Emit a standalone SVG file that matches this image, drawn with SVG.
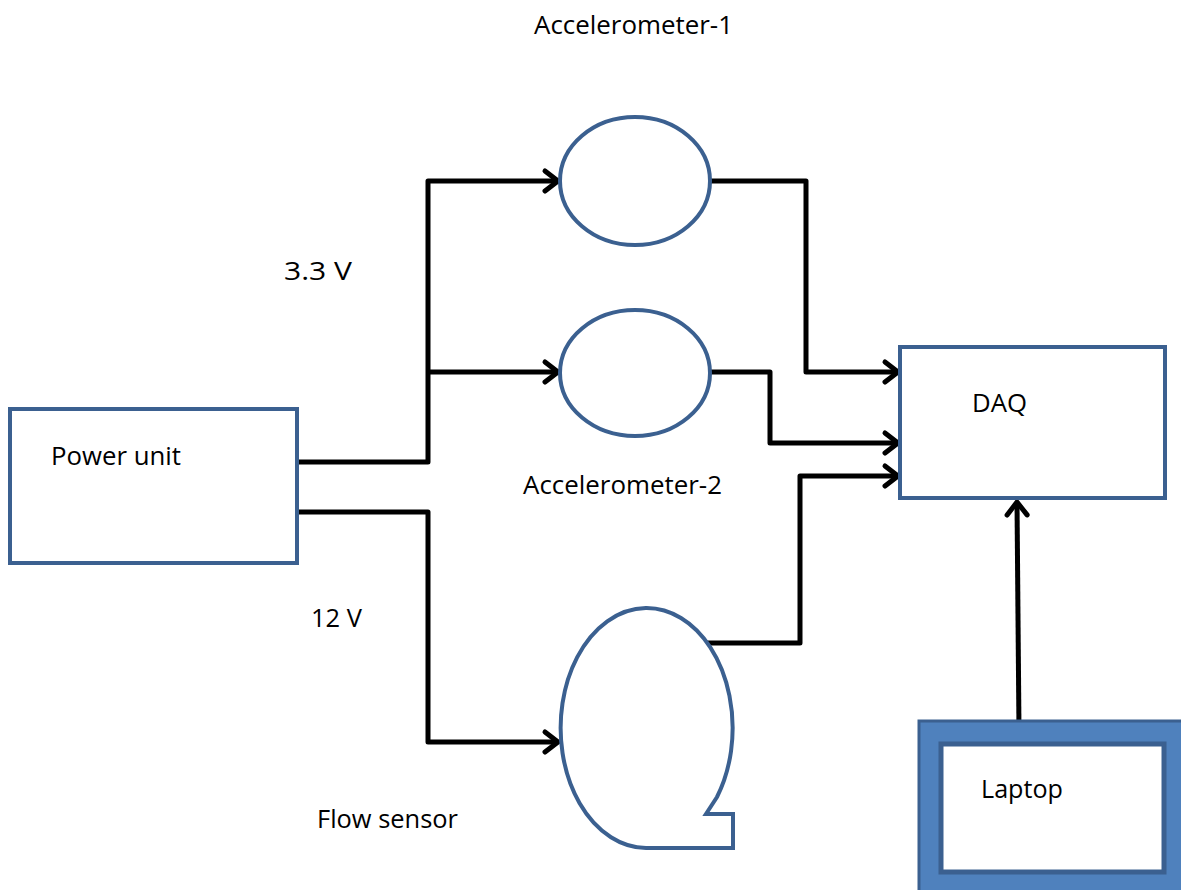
<svg xmlns="http://www.w3.org/2000/svg" width="1181" height="890" viewBox="0 0 1181 890">
<style>
.shape{fill:#fff;stroke:#3B6090;stroke-width:4}
.wire{fill:none;stroke:#000;stroke-width:5;stroke-linejoin:round}
.lbl{font-family:"Open Sans","Liberation Sans",sans-serif;font-size:25px;fill:#000}
</style>
<defs>
<marker id="arr" markerUnits="userSpaceOnUse" markerWidth="30" markerHeight="30" viewBox="-16 -15 20 30" refX="0" refY="0" orient="auto">
<path d="M-13,-10 L0,0 L-13,10" fill="none" stroke="#000" stroke-width="5" stroke-linecap="round" stroke-linejoin="round"/>
</marker>
</defs>
<rect width="1181" height="890" fill="#fff"/>
<g id="connectors">
<polyline class="wire" points="297,462 428,462 428,181 558,181" marker-end="url(#arr)"/>
<polyline class="wire" points="428,372 558,372" marker-end="url(#arr)"/>
<polyline class="wire" points="297,512 428,512 428,742 558,742" marker-end="url(#arr)"/>
<polyline class="wire" points="710,181 806,181 806,372 898,372" marker-end="url(#arr)"/>
<polyline class="wire" points="710,372 770,372 770,443 898,443" marker-end="url(#arr)"/>
<polyline class="wire" points="705,643 800,643 800,476 898,476" marker-end="url(#arr)"/>
<line class="wire" x1="1019" y1="730" x2="1017" y2="502" marker-start="url(#arr)" marker-end="url(#arr)"/>
</g>
<g id="power-unit">
<rect class="shape" x="10" y="409" width="287" height="154"/>
<text class="lbl" x="51" y="465" textLength="130" lengthAdjust="spacingAndGlyphs">Power unit</text>
</g>
<g id="accelerometer-1">
<ellipse class="shape" cx="635" cy="181" rx="75" ry="64"/>
<text class="lbl" x="534" y="34" textLength="199" lengthAdjust="spacingAndGlyphs">Accelerometer-1</text>
</g>
<g id="accelerometer-2">
<ellipse class="shape" cx="635" cy="373" rx="75" ry="63"/>
<text class="lbl" x="523" y="494" textLength="199" lengthAdjust="spacingAndGlyphs">Accelerometer-2</text>
</g>
<g id="flow-sensor">
<path class="shape" d="M646,848 A86,120 0 1 1 717,797 L706,814 L733,814 L733,848 Z"/>
<text class="lbl" x="317" y="828" textLength="141" lengthAdjust="spacingAndGlyphs">Flow sensor</text>
</g>
<g id="daq">
<rect class="shape" x="900" y="347" width="265" height="151"/>
<text class="lbl" x="972" y="412" textLength="55" lengthAdjust="spacingAndGlyphs">DAQ</text>
</g>
<g id="laptop">
<rect x="919" y="721" width="270" height="180" fill="#4F81BD" stroke="#3B6090" stroke-width="3"/>
<rect x="941" y="744" width="223" height="128" fill="#fff" stroke="#3B6090" stroke-width="5"/>
<text class="lbl" x="981" y="798" textLength="82" lengthAdjust="spacingAndGlyphs">Laptop</text>
</g>
<g id="labels">
<text class="lbl" x="284" y="280" textLength="68" lengthAdjust="spacingAndGlyphs">3.3 V</text>
<text class="lbl" x="311" y="627" textLength="51" lengthAdjust="spacingAndGlyphs">12 V</text>
</g>
</svg>
